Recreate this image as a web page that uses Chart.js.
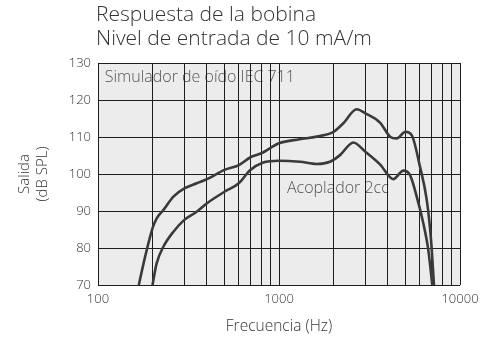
<!DOCTYPE html>
<html>
<head>
<meta charset="utf-8">
<script src="https://cdn.jsdelivr.net/npm/chart.js@4.4.0/dist/chart.umd.min.js"></script>
<style>
  html, body { margin: 0; padding: 0; background: #fff; }
  #wrap { position: relative; width: 488px; height: 347px; }
  #title {
    position: absolute; left: 96px; top: 1px;
    font-family: "Open Sans", sans-serif; font-weight: 300;
    font-size: 21px; line-height: 24px; color: #333;
  }
  canvas { position: absolute; left: 0; top: 0; }
</style>
</head>
<body>
<div id="wrap">
  <canvas id="chart" width="488" height="347"></canvas>
  <div id="title">Respuesta de la bobina<br>Nivel de entrada de 10 mA/m</div>
</div>
<script>
// Simulador de oído IEC 711
const simFreq = [168, 182, 200, 211, 230, 261, 300, 351, 400, 500, 600, 700, 800, 1000, 1300, 1616, 2000, 2266, 2686, 3000, 3614, 4106, 4470, 5000, 5410, 6010, 6550, 6918, 7180];
const simLevel = [70, 77.6, 85.3, 88.0, 90.3, 93.9, 96.1, 97.5, 98.6, 101.1, 102.4, 104.6, 105.6, 108.3, 109.4, 110.1, 111.4, 113.7, 117.5, 116.4, 113.9, 110.1, 109.6, 111.4, 110.5, 102.0, 93.0, 82.2, 70];

// Acoplador 2cc
const coupFreq = [200, 211, 230, 261, 300, 351, 400, 500, 600, 692, 818, 1000, 1306, 1616, 1913, 2173, 2573, 3000, 3614, 4277, 4864, 5297, 5766, 6270, 6680, 7030];
const coupLevel = [70, 75.9, 80.4, 84.4, 87.6, 89.8, 92.1, 95.2, 97.5, 101.0, 103.1, 103.6, 103.3, 102.7, 103.3, 105.1, 108.5, 106.0, 102.6, 98.6, 100.9, 99.7, 93.9, 86.7, 79.5, 70];

const xTicks = [100, 200, 300, 400, 500, 600, 700, 800, 900, 1000, 2000, 3000, 4000, 5000, 6000, 7000, 8000, 9000, 10000];
const xLabelTicks = [100, 1000, 10000];
const yTicks = [70, 80, 90, 100, 110, 120, 130];

const notes = ['Simulador de oído IEC 711', 'Acoplador 2cc'];
const noteFreq = [109, 1107];
const noteLevel = [126.2, 96.2];

const FONT = '"Open Sans", sans-serif';
const INK = '#333';

const toPoints = (xs, ys) => xs.map((x, i) => ({ x, y: ys[i] }));

const plotBackground = {
  id: 'plotBackground',
  beforeDraw(chart) {
    const { ctx, chartArea: a, scales } = chart;
    ctx.save();
    ctx.fillStyle = '#ececec';
    ctx.fillRect(a.left, a.top, a.right - a.left, a.bottom - a.top);
    ctx.fillStyle = '#555';
    ctx.font = '300 16px ' + FONT;
    ctx.textBaseline = 'middle';
    notes.forEach((t, i) => {
      ctx.fillText(t, scales.x.getPixelForValue(noteFreq[i]), scales.y.getPixelForValue(noteLevel[i]));
    });
    ctx.restore();
  }
};

const lineStyle = {
  borderColor: '#3a3a3a',
  borderWidth: 2.6,
  pointRadius: 0,
  cubicInterpolationMode: 'monotone',
  fill: false,
};

new Chart(document.getElementById('chart'), {
  type: 'line',
  data: {
    datasets: [
      { label: notes[0], data: toPoints(simFreq, simLevel), ...lineStyle },
      { label: notes[1], data: toPoints(coupFreq, coupLevel), ...lineStyle },
    ],
  },
  options: {
    responsive: false,
    animation: false,
    layout: { padding: { top: 63, right: 28, left: 0, bottom: 0 } },
    plugins: { legend: { display: false }, tooltip: { enabled: false } },
    scales: {
      x: {
        type: 'logarithmic',
        min: 100,
        max: 10000,
        afterBuildTicks: (s) => { s.ticks = xTicks.map(v => ({ value: v })); },
        afterFit: (s) => { s.height = 62; },
        grid: { color: '#1e1e1e', lineWidth: 1, drawTicks: false },
        border: { display: false },
        ticks: {
          autoSkip: false,
          maxRotation: 0,
          padding: 6,
          color: INK,
          font: { family: FONT, size: 13, weight: 300 },
          callback: (v) => (xLabelTicks.includes(v) ? String(v) : ''),
        },
        title: {
          display: true,
          text: 'Frecuencia (Hz)',
          color: INK,
          font: { family: FONT, size: 15.5, weight: 300, lineHeight: 1.16 },
          padding: { top: 0, bottom: 11 },
        },
      },
      y: {
        min: 70,
        max: 130,
        afterBuildTicks: (s) => { s.ticks = yTicks.map(v => ({ value: v })); },
        afterFit: (s) => { s.width = 98; },
        grid: { color: '#1e1e1e', lineWidth: 1, drawTicks: false },
        border: { display: false },
        ticks: {
          padding: 7,
          color: INK,
          font: { family: FONT, size: 13, weight: 300 },
        },
        title: {
          display: true,
          text: ['Salida', '(dB SPL)'],
          color: INK,
          font: { family: FONT, size: 15, weight: 300, lineHeight: 1.2 },
          padding: { top: 16, bottom: 0 },
        },
      },
    },
  },
  plugins: [plotBackground],
});
</script>
</body>
</html>
